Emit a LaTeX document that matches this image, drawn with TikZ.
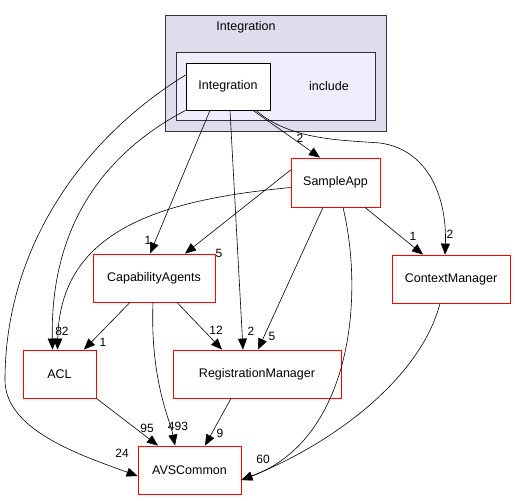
\documentclass[tikz,border=0pt]{standalone}
\usepackage{fontspec}
\setmainfont{Liberation Sans}
\usetikzlibrary{arrows.meta,positioning}
\usetikzlibrary{calc}

\definecolor{clusterouter}{HTML}{DDDDEE}
\definecolor{clusterinner}{HTML}{EEEEFF}
\definecolor{clusterline}{HTML}{333333}

\begin{document}
\begin{tikzpicture}[
    x=1pt, y=-1pt,
    >={Triangle[length=11pt,width=9pt]},
    dir/.style={
        rectangle,
        draw=red,
        thick,
        fill=white,
        inner sep=0pt,
        minimum height=48pt,
        font=\fontsize{12.5}{14}\selectfont
    },
    edge/.style={
        ->,
        semithick
    },
    cnt/.style={
        font=\fontsize{12}{14}\selectfont,
        inner sep=0pt
    }
]
\useasboundingbox (0,0) rectangle (516,500);

% Clusters
\draw[clusterline, fill=clusterouter, thick] (165,15) rectangle (386,131);
\node[font=\fontsize{12.5}{14}\selectfont] (lblouter) at (246,27) {Integration};
\draw[clusterline, fill=clusterinner, thick] (176,52) rectangle (375,120);
\node[font=\fontsize{12.5}{14}\selectfont] (lblinner) at (329,86) {include};

% Layer 0
\node[dir, draw=black, minimum width=84pt, minimum height=47pt] (integ) at (228,86.5) {Integration};

% Layer 1
\node[dir, minimum width=89pt, minimum height=49pt] (sapp) at (335.5,182.5) {SampleApp};

% Layer 2
\node[dir, minimum width=122pt] (capag) at (154,278) {CapabilityAgents};
\node[dir, minimum width=118pt] (ctxm) at (451,279) {ContextManager};

% Layer 3
\node[dir, minimum width=73pt] (acl) at (59.5,374) {ACL};
\node[dir, minimum width=168pt] (regm) at (257,374) {RegistrationManager};

% Layer 4
\node[dir, minimum width=103pt] (avsc) at (189.5,470) {AVSCommon};

% Edges
\draw[edge] (integ.south west) .. controls (110,150) and (50,220) .. ([xshift=-7pt]acl.north);
\draw[edge] ([yshift=11.5pt]integ.west) .. controls (80,140) and (5,250) .. (5,380)
    .. controls (5,430) and (80,455) .. ([yshift=-6pt]avsc.west);
\draw[edge] ([xshift=-18pt]integ.south) -- ([xshift=-4pt]capag.north);
\draw[edge] ([xshift=2pt]integ.south) -- ([xshift=-14pt]regm.north);
\draw[edge] ([xshift=25pt]integ.south) -- ([xshift=-15.5pt]sapp.north);
\draw[edge] ([xshift=28pt]integ.south) .. controls (290,140) and (340,140) .. (380,143)
    .. controls (430,150) and (447,200) .. ([xshift=-6pt]ctxm.north);

\draw[edge] ([yshift=-5pt]sapp.west) .. controls (160,200) and (60,230) .. ([xshift=-2pt]acl.north);
\draw[edge] ([yshift=12.5pt]sapp.west) -- ([xshift=31pt]capag.north);
\draw[edge] ([xshift=-12.5pt]sapp.south) -- ([xshift=1pt]regm.north);
\draw[edge] ([xshift=7.5pt]sapp.south) .. controls (365,300) and (350,440) .. ([yshift=-10pt]avsc.east);
\draw[edge] ([xshift=29.5pt]sapp.south) -- ([xshift=-28pt]ctxm.north);

\draw[edge] ([xshift=-24pt]capag.south) -- ([xshift=24.5pt]acl.north);
\draw[edge] ([xshift=23pt]capag.south) -- ([xshift=-35pt]regm.north);
\draw[edge] ([xshift=-1pt]capag.south) .. controls (150,380) and (170,420) .. ([xshift=-14.5pt]avsc.north);

\draw[edge] (acl.south east) -- ([xshift=-31.5pt]avsc.north);
\draw[edge] ([xshift=-26pt]regm.south) -- ([xshift=15.5pt]avsc.north);
\draw[edge] ([xshift=-11pt]ctxm.south) .. controls (420,380) and (330,445) .. ([yshift=-10pt]avsc.east);

% Counts
\node[cnt] (n1) at (62,331) {82};
\node[cnt] (n2) at (122,453) {24};
\node[cnt] (n3) at (148,240) {1};
\node[cnt] (n4) at (251,331) {2};
\node[cnt] (n5) at (300,138) {2};
\node[cnt] (n6) at (450,234) {2};
\node[cnt] (n7) at (219,253) {5};
\node[cnt] (n8) at (272,336) {5};
\node[cnt] (n9) at (263,459) {60};
\node[cnt] (n10) at (413,236) {1};
\node[cnt] (n11) at (103,342) {1};
\node[cnt] (n12) at (216,330) {12};
\node[cnt] (n13) at (178,426) {493};
\node[cnt] (n14) at (147,428) {95};
\node[cnt] (n15) at (220,433) {9};

\end{tikzpicture}
\end{document}
